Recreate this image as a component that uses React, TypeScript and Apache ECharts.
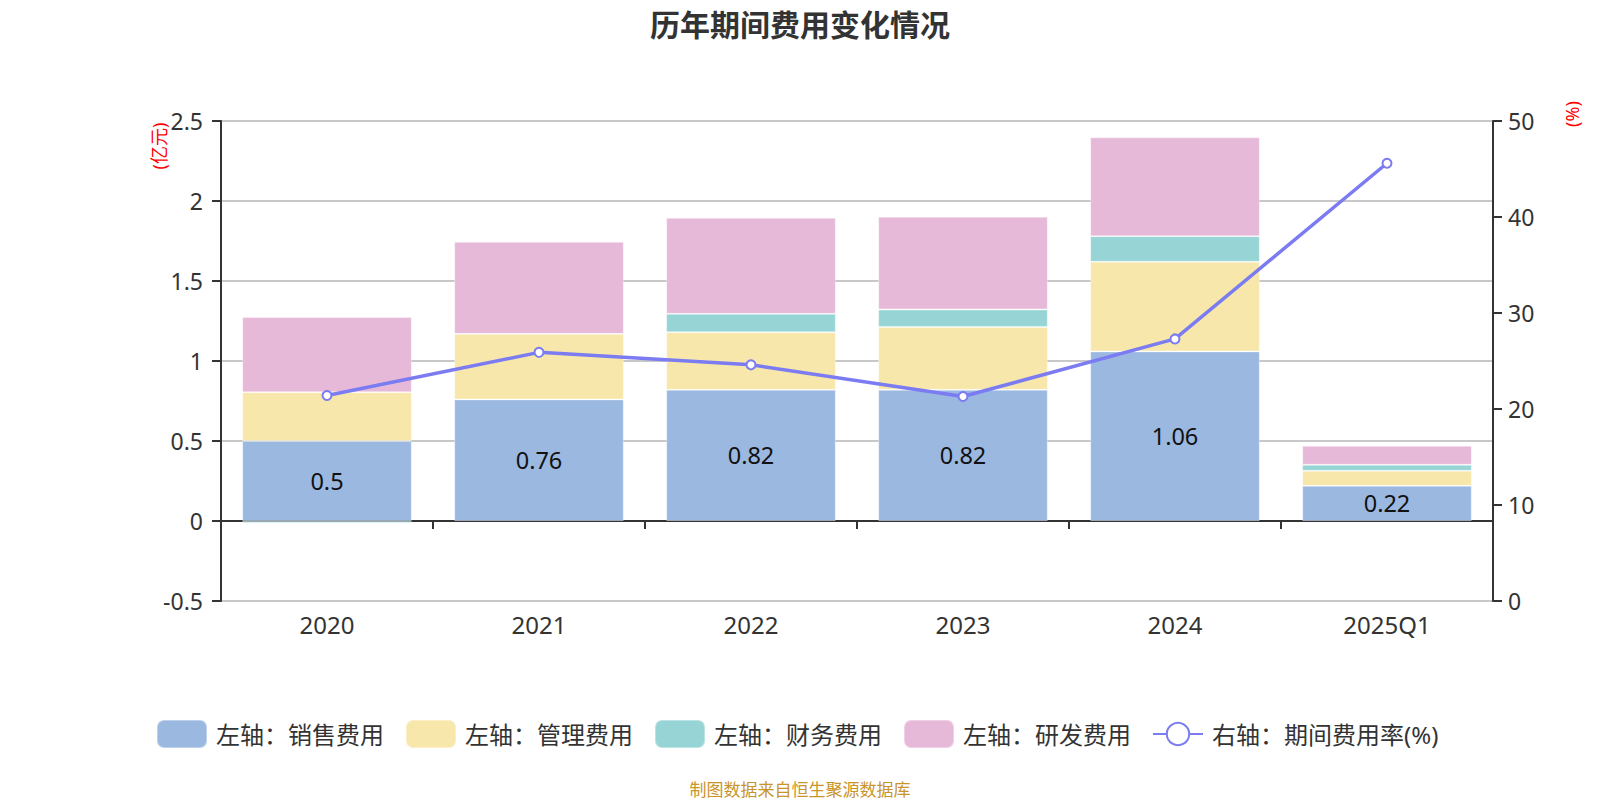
import React, { useEffect, useRef } from "react";
import * as echarts from "echarts";

const categories = ["2020", "2021", "2022", "2023", "2024", "2025Q1"];
const salesExp = [0.5, 0.76, 0.82, 0.82, 1.06, 0.22];
const adminExp = [0.305, 0.41, 0.36, 0.393, 0.56, 0.094];
const financeExp = [-0.013, 0, 0.115, 0.109, 0.16, 0.037];
const rdExp = [0.47, 0.575, 0.6, 0.58, 0.618, 0.119];
const expenseRate = [21.4, 25.9, 24.6, 21.3, 27.3, 45.6];
const leftTicks = { min: -0.5, max: 2.5, interval: 0.5 };
const rightTicks = { min: 0, max: 50, interval: 10 };

const FONT = "'Noto Sans', 'Noto Sans CJK SC', sans-serif";

export default function App() {
  const ref = useRef<HTMLDivElement>(null);
  useEffect(() => {
    if (!ref.current) return;
    const chart = echarts.init(ref.current, undefined, { renderer: "svg" });
    const barSeries = (name: string, data: number[], color: string, label: boolean) => ({
      name,
      type: "bar",
      stack: "total",
      data,
      barWidth: "80%",
      itemStyle: { color, borderColor: "rgba(255,255,255,0.35)", borderWidth: 1 },
      label: label
        ? {
            show: true,
            position: "inside",
            color: "#111",
            fontSize: 23.5,
            fontFamily: FONT,
          }
        : { show: false },
    });
    chart.setOption({
      animation: false,
      textStyle: { fontFamily: FONT },
      title: {
        text: "历年期间费用变化情况",
        left: "center",
        top: 4,
        textStyle: { fontSize: 30, fontWeight: "bold", color: "#333", fontFamily: FONT },
      },
      grid: { left: 221, right: 107, top: 121, height: 480 },
      legend: {
        top: 714,
        left: 151,
        itemWidth: 50,
        itemHeight: 28,
        itemGap: 21,
        textStyle: { fontSize: 24, color: "#333", fontFamily: FONT, padding: [0, 0, 0, 4] },
        data: [
          { name: "左轴：销售费用", icon: "roundRect" },
          { name: "左轴：管理费用", icon: "roundRect" },
          { name: "左轴：财务费用", icon: "roundRect" },
          { name: "左轴：研发费用", icon: "roundRect" },
          { name: "右轴：期间费用率(%)" },
        ],
      },
      xAxis: {
        type: "category",
        data: categories,
        axisLine: { onZero: true, lineStyle: { color: "#333", width: 2 } },
        axisTick: { show: true, length: 8, lineStyle: { color: "#333", width: 2 } },
        axisLabel: { margin: 11, fontSize: 24, color: "#333", fontFamily: FONT },
      },
      yAxis: [
        {
          type: "value",
          min: leftTicks.min,
          max: leftTicks.max,
          interval: leftTicks.interval,
          axisLine: { show: true, lineStyle: { color: "#333", width: 2 } },
          axisTick: { show: true, length: 9, lineStyle: { color: "#333", width: 2 } },
          axisLabel: { fontSize: 23, color: "#333", margin: 18, fontFamily: FONT },
          splitLine: { show: true, lineStyle: { color: "#c8c8c8", width: 2 } },
        },
        {
          type: "value",
          min: rightTicks.min,
          max: rightTicks.max,
          interval: rightTicks.interval,
          position: "right",
          axisLine: { show: true, lineStyle: { color: "#333", width: 2 } },
          axisTick: { show: true, length: 9, lineStyle: { color: "#333", width: 2 } },
          axisLabel: { fontSize: 23, color: "#333", margin: 15, fontFamily: FONT },
          splitLine: { show: false },
        },
      ],
      graphic: [
        {
          type: "text",
          x: 159,
          y: 146,
          rotation: Math.PI / 2,
          style: {
            text: "(亿元)",
            fill: "#ff0000",
            fontSize: 18,
            fontFamily: FONT,
            textAlign: "center",
            textVerticalAlign: "middle",
          },
        },
        {
          type: "text",
          x: 1572,
          y: 114,
          rotation: Math.PI / 2,
          style: {
            text: "(%)",
            fill: "#ff0000",
            fontSize: 18,
            fontFamily: FONT,
            textAlign: "center",
            textVerticalAlign: "middle",
          },
        },
        {
          type: "text",
          x: 800,
          y: 789,
          style: {
            text: "制图数据来自恒生聚源数据库",
            fill: "#c9952b",
            fontSize: 17,
            fontFamily: FONT,
            textAlign: "center",
            textVerticalAlign: "middle",
          },
        },
      ],
      series: [
        barSeries("左轴：销售费用", salesExp, "#9bb8e1", true),
        barSeries("左轴：管理费用", adminExp, "#f8e7ab", false),
        barSeries("左轴：财务费用", financeExp, "#97d4d5", false),
        barSeries("左轴：研发费用", rdExp, "#e7b9d9", false),
        {
          name: "右轴：期间费用率(%)",
          type: "line",
          yAxisIndex: 1,
          data: expenseRate,
          symbol: "emptyCircle",
          symbolSize: 9,
          z: 5,
          lineStyle: { color: "#7b7bf2", width: 3.5 },
          itemStyle: { color: "#7b7bf2", borderWidth: 2 },
        },
      ],
    });
    return () => chart.dispose();
  }, []);
  return (
    <div
      ref={ref}
      style={{ position: "fixed", left: 0, top: 0, width: 1600, height: 800, background: "#fff" }}
    />
  );
}
